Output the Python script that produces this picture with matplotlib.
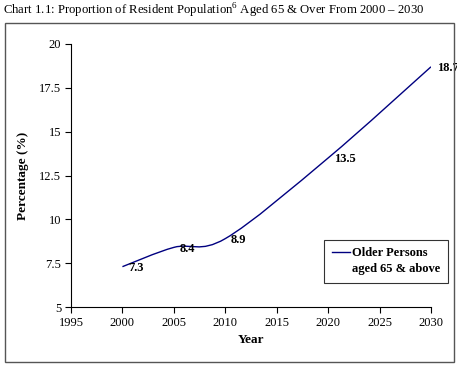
import matplotlib
matplotlib.use("Agg")
import matplotlib.pyplot as plt
from matplotlib.path import Path
from matplotlib.patches import PathPatch, Rectangle
from matplotlib.lines import Line2D

years = [2000, 2005, 2010, 2020, 2030]
percent = [7.3, 8.4, 8.9, 13.5, 18.7]
series_name = ["Older Persons", "aged 65 & above"]
x_ticks = [1995, 2000, 2005, 2010, 2015, 2020, 2025, 2030]
y_ticks = [5, 7.5, 10, 12.5, 15, 17.5, 20]

plt.rcParams["font.family"] = ["Liberation Serif", "DejaVu Serif"]
plt.rcParams["mathtext.fontset"] = "custom"
plt.rcParams["mathtext.rm"] = "Liberation Serif"

LINE = "#000080"


def smooth_path(xs, ys):
    """Excel-style smoothed line as cubic bezier segments (catmull-rom)"""
    verts = [(xs[0], ys[0])]
    codes = [Path.MOVETO]
    n = len(xs)
    for i in range(n - 1):
        x0, y0 = (xs[i - 1], ys[i - 1]) if i > 0 else (xs[i], ys[i])
        x1, y1 = xs[i], ys[i]
        x2, y2 = xs[i + 1], ys[i + 1]
        x3, y3 = (xs[i + 2], ys[i + 2]) if i + 2 < n else (x2, y2)
        c1 = (x1 + (x2 - x0) / 6.0, y1 + (y2 - y0) / 6.0)
        c2 = (x2 - (x3 - x1) / 6.0, y2 - (y3 - y1) / 6.0)
        verts += [c1, c2, (x2, y2)]
        codes += [Path.CURVE4] * 3
    return Path(verts, codes)


fig = plt.figure(figsize=(4.57, 3.65), dpi=100)
ax = fig.add_axes([71 / 457, 1 - 307 / 365, 360 / 457, 263 / 365])

# outer chart frame
fig.patches.append(Rectangle((5 / 457, 3 / 365), 449 / 457, 339 / 365,
                             transform=fig.transFigure, fill=False,
                             edgecolor="#555555", linewidth=1.0))

fig.text(3 / 457, 1 - 11 / 365,
         "Chart 1.1: Proportion of Resident Population$^{6}$ Aged 65 & Over From 2000 \u2013 2030",
         fontsize=9.2, ha="left", va="center")

ax.add_patch(PathPatch(smooth_path(years, percent), facecolor="none",
                       edgecolor=LINE, linewidth=1.0))

for x, y in zip(years, percent):
    ax.annotate(f"{y:.1f}", (x, y), xytext=(4, -1), textcoords="offset points",
                ha="left", va="center", fontsize=9, fontweight="bold",
                annotation_clip=False)

ax.set_xlim(1995, 2030)
ax.set_ylim(5, 20)
ax.set_xticks(x_ticks)
ax.set_yticks(y_ticks)
ax.set_yticklabels([f"{v:g}" for v in y_ticks])
ax.tick_params(direction="out", length=4, width=0.8, labelsize=9, pad=3)
for s in ["top", "right"]:
    ax.spines[s].set_visible(False)
for s in ["left", "bottom"]:
    ax.spines[s].set_linewidth(0.8)

ax.set_xlabel("Year", fontsize=9.5, fontweight="bold", labelpad=4)
ax.set_ylabel("Percentage (%)", fontsize=9.5, fontweight="bold", labelpad=7)

# handle sits next to the first line of the legend text, as in Excel
handles = [Line2D([], [], color=LINE, linewidth=1.0),
           Line2D([], [], color="none")]
leg = ax.legend(handles, series_name, loc="upper right",
                bbox_to_anchor=(1.047, 0.255),
                prop={"weight": "bold", "size": 9}, frameon=True, fancybox=False,
                handlelength=1.5, handletextpad=0.15, borderpad=0.6,
                borderaxespad=0, labelspacing=0.3)
leg.get_frame().set_edgecolor("black")
leg.get_frame().set_linewidth(0.8)

fig.savefig("out.png", dpi=100)
